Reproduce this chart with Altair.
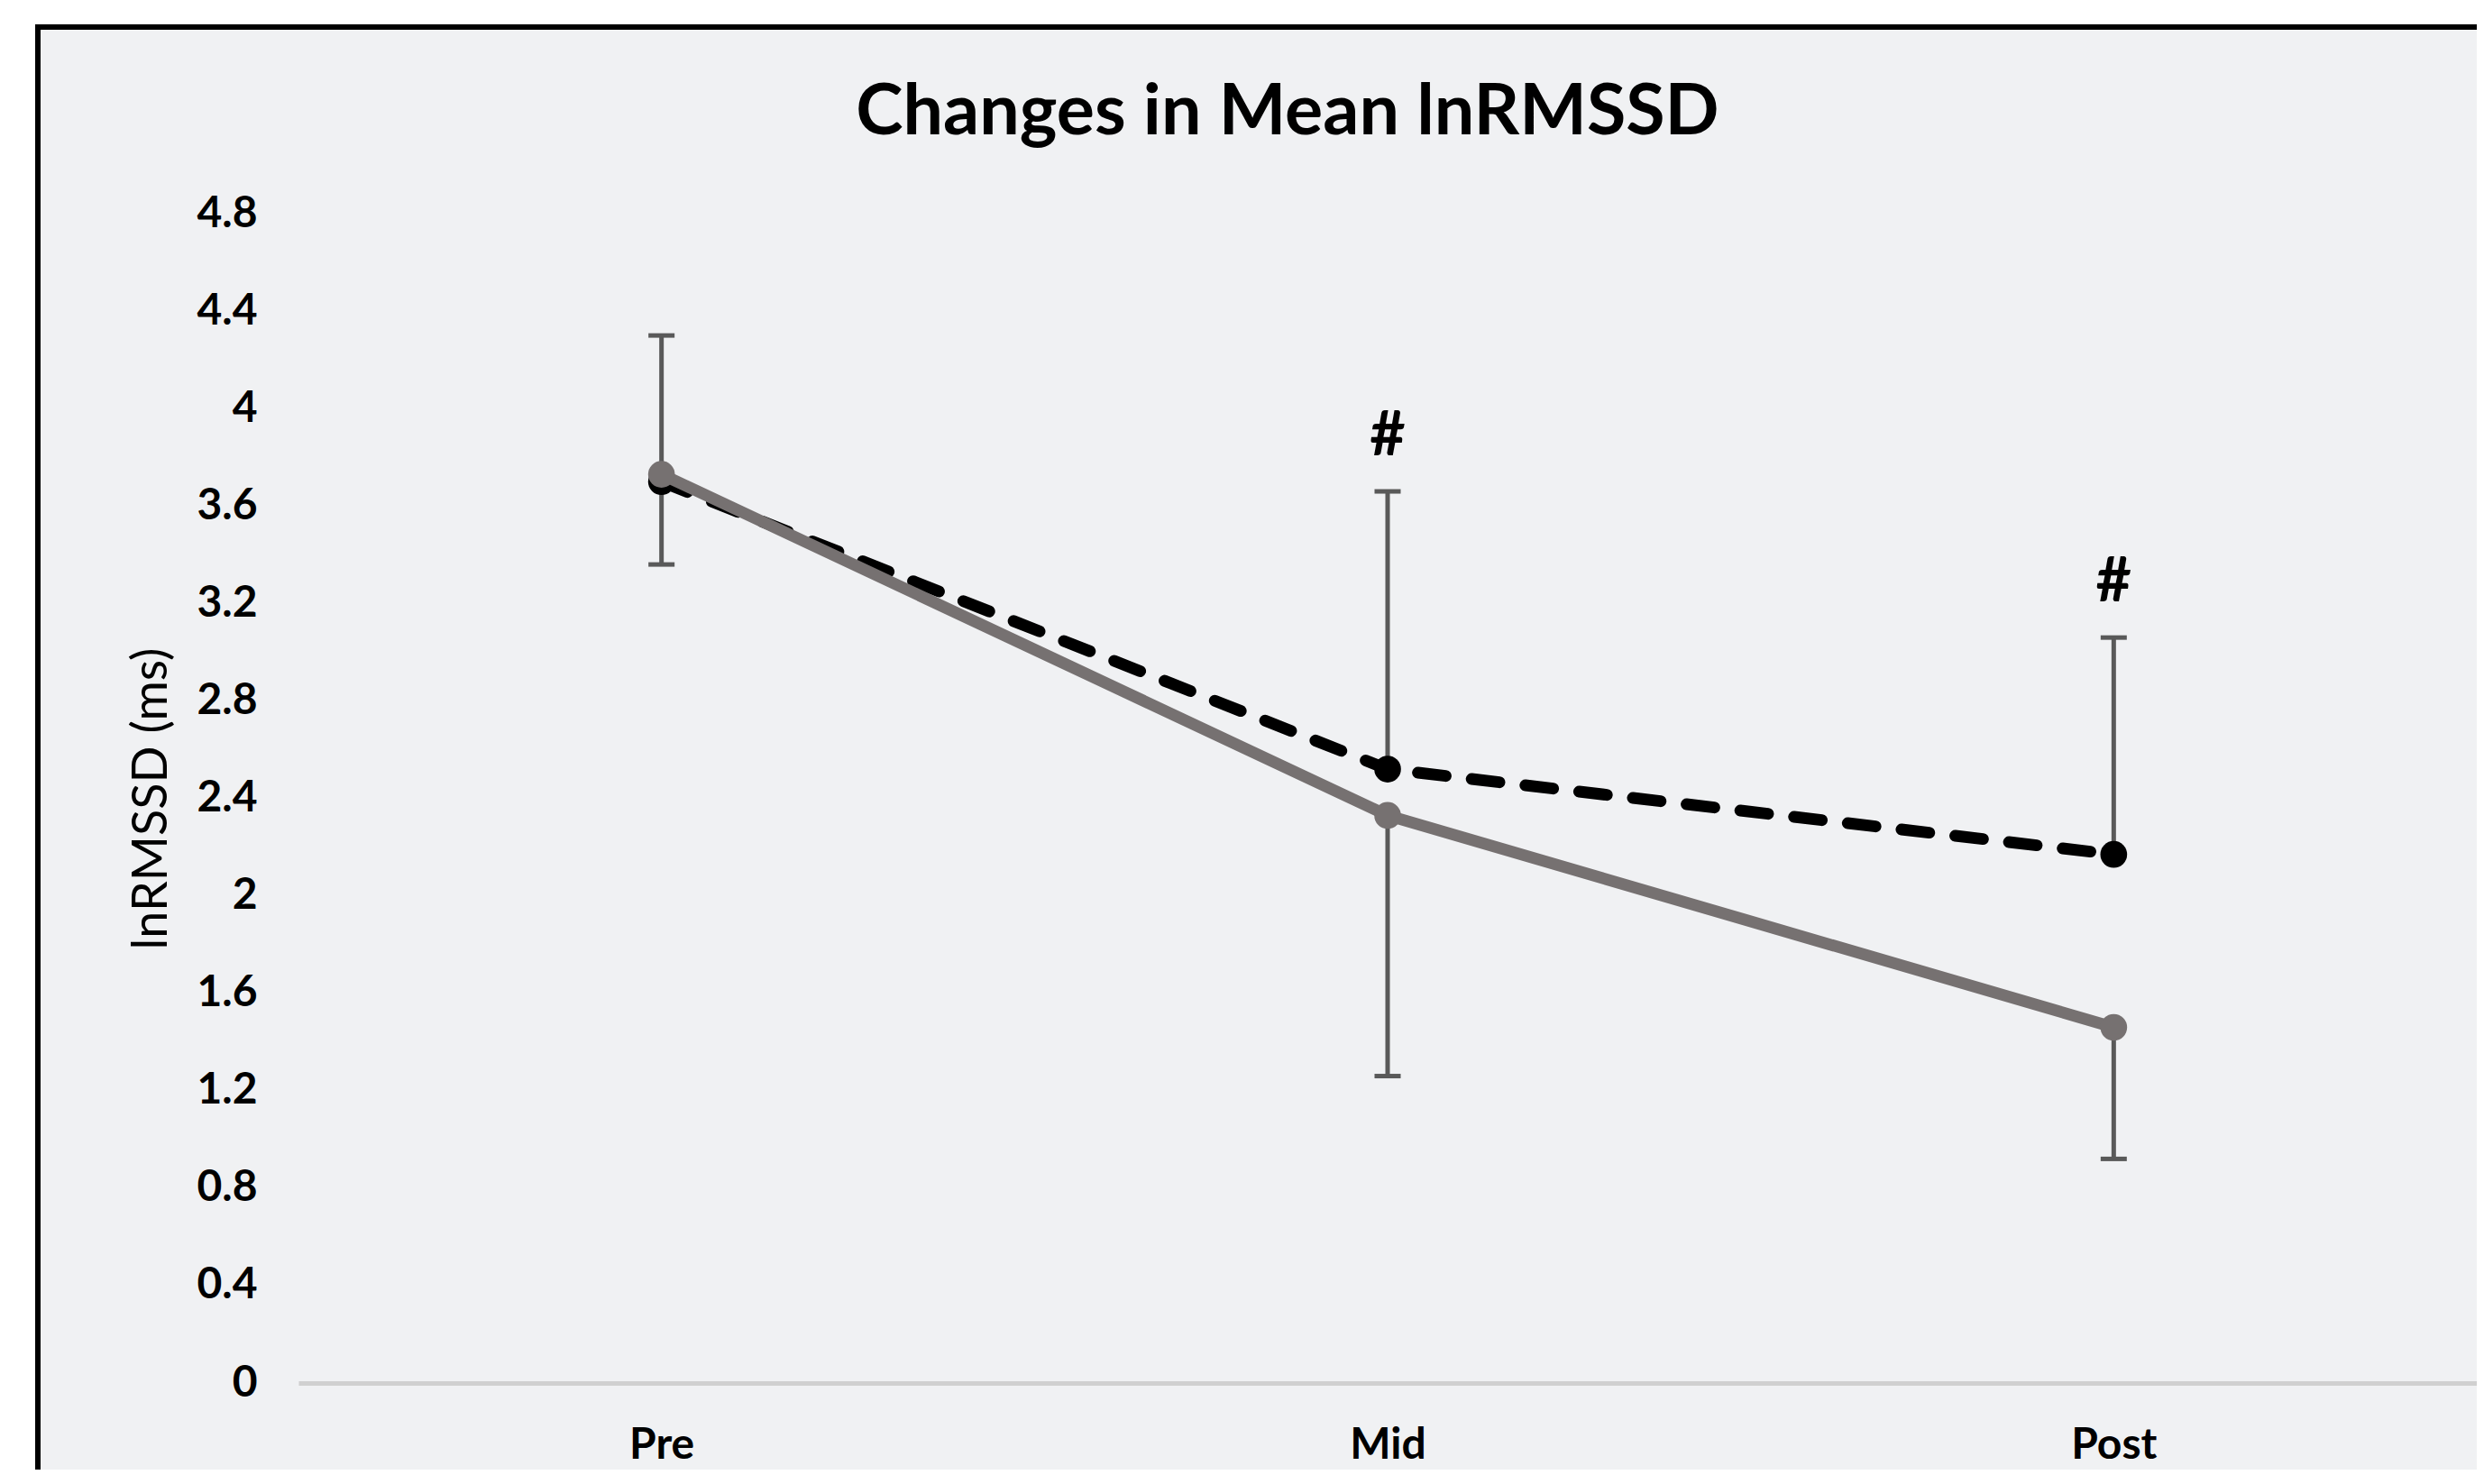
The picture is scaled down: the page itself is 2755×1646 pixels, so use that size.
import altair as alt
import pandas as pd

# ---- data ----
phases = ["Pre", "Mid", "Post"]
dashed_mean = [3.70, 2.52, 2.17]      # black dashed series
dashed_upper = [4.30, 3.66, 3.06]     # its upper error-bar ends
solid_mean = [3.73, 2.33, 1.46]       # grey solid series
solid_lower = [3.36, 1.26, 0.92]      # its lower error-bar ends
sig_labels = ["", "#", "#"]
y_ticks = [0, 0.4, 0.8, 1.2, 1.6, 2, 2.4, 2.8, 3.2, 3.6, 4, 4.4, 4.8]
chart_title = "Changes in Mean lnRMSSD"

FONT = "Lato"
BG = "#f0f1f3"
GREY = "#767171"
ERR = "#595959"

dashed_df = pd.DataFrame({"phase": phases, "mean": dashed_mean,
                          "err": dashed_upper, "sig": sig_labels})
solid_df = pd.DataFrame({"phase": phases, "mean": solid_mean, "err": solid_lower})

x_axis = alt.Axis(title=None, labelAngle=0, ticks=False, grid=False,
                  domain=True, domainColor="#d0d0d0", domainWidth=5,
                  labelFont=FONT, labelFontSize=48, labelFontWeight="bold",
                  labelColor="black", labelPadding=45, zindex=1)
y_axis = alt.Axis(values=y_ticks, format="~g", domain=False, ticks=False, grid=False,
                  labelFont=FONT, labelFontSize=48, labelFontWeight="bold",
                  labelColor="black", labelPadding=46,
                  title="lnRMSSD (ms)", titleFont=FONT, titleFontSize=54,
                  titleFontWeight="normal", titleColor="black", titlePadding=22,
                  zindex=1)

x_scale = alt.Scale(type="point", padding=0.5)
y_scale = alt.Scale(domain=[0, 4.8], nice=False, zero=True)

def X():
    return alt.X("phase:N", sort=phases, scale=x_scale, axis=x_axis)

def Y(field):
    return alt.Y(f"{field}:Q", scale=y_scale, axis=y_axis)

one_row = alt.Data(values=[{"t": chart_title}])

frame = alt.Chart(one_row).mark_rect(
    fill=BG, stroke="black", strokeWidth=6
).encode(x=alt.value(-289), x2=alt.value(2700), y=alt.value(-207), y2=alt.value(1600))

title_mark = alt.Chart(one_row).mark_text(
    font=FONT, fontSize=79, fontWeight="bold", color="black",
    align="center", baseline="alphabetic"
).encode(x=alt.value(1097), y=alt.value(-88), text="t:N")

up_rule = alt.Chart(dashed_df).mark_rule(color=ERR, strokeWidth=5).encode(
    x=X(), y=Y("mean"), y2="err:Q")
up_cap = alt.Chart(dashed_df).mark_tick(color=ERR, thickness=5, size=29,
                                        orient="horizontal", opacity=1).encode(x=X(), y=Y("err"))
down_rule = alt.Chart(solid_df).mark_rule(color=ERR, strokeWidth=5).encode(
    x=X(), y=Y("mean"), y2="err:Q")
down_cap = alt.Chart(solid_df).mark_tick(color=ERR, thickness=5, size=29,
                                         orient="horizontal", opacity=1).encode(x=X(), y=Y("err"))

dashed_line = alt.Chart(dashed_df).mark_line(
    color="black", strokeWidth=13, strokeDash=[31, 29], strokeCap="round"
).encode(x=X(), y=Y("mean"))
dashed_pts = alt.Chart(dashed_df).mark_circle(color="black", size=880, opacity=1).encode(
    x=X(), y=Y("mean"))

solid_line = alt.Chart(solid_df).mark_line(color=GREY, strokeWidth=13).encode(
    x=X(), y=Y("mean"))
solid_pts = alt.Chart(solid_df).mark_circle(color=GREY, size=880, opacity=1).encode(
    x=X(), y=Y("mean"))

sig_text = alt.Chart(dashed_df).transform_filter("datum.sig != ''").mark_text(
    font=FONT, fontSize=68, fontWeight="bold", color="black", dy=-60, baseline="middle"
).encode(x=X(), y=Y("err"), text="sig:N")

chart = alt.layer(
    frame, title_mark, up_rule, up_cap, down_rule, down_cap,
    dashed_line, dashed_pts, solid_line, solid_pts, sig_text
).properties(
    width=2416, height=1297,
    padding={"left": 323, "top": 229, "right": 0, "bottom": 96},
    autosize=alt.AutoSizeParams(type="none"),
    background="white",
).configure_view(stroke=None)

chart.save("out.html", embed_options={"renderer": "svg", "actions": False})
